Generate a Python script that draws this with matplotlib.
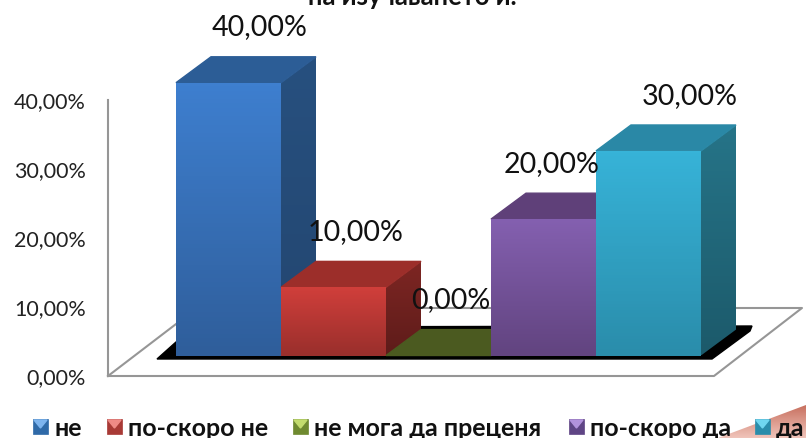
# -*- coding: utf-8 -*-
import matplotlib
matplotlib.use('Agg')
import matplotlib.pyplot as plt
import numpy as np
from matplotlib.colors import LinearSegmentedColormap
from matplotlib.patches import Polygon, Rectangle

categories = ['не', 'по-скоро не', 'не мога да преценя', 'по-скоро да', 'да']
values = [40, 10, 0, 20, 30]
ticks = [0, 10, 20, 30, 40]
title = 'на изучаването и.'

# front colour top, front colour bottom, roof, side top, side bottom
shades = [('#3e7fcf', '#2f5e9b', '#2c5d96', '#27507f', '#234670'),
          ('#d13f3b', '#9a2f2c', '#9c2e2a', '#7e2623', '#5e1c1a'),
          ('#6f8a35', '#4b5a20', '#4b5a20', '#4b5a20', '#4b5a20'),
          ('#8460b0', '#624480', '#5f4079', '#523668', '#452c58'),
          ('#37b3d8', '#2a8dab', '#2a88a6', '#267488', '#1c5a6b')]
label_shift = [0.30, 0.21, 0.12, 0.08, 0.39]
legend_x = [33, 107, 293, 569, 755]
legend_base = ['#2f6aa8', '#a83a36', '#6f8a30', '#5f4585', '#2a8dab']
legend_light = ['#7db4ee', '#ee8a86', '#c3dc6e', '#b292dc', '#6fd6f0']

W, H = 806, 438
DEPTH_X = 1 / 3
DEPTH_Y = 3.8
BASE_PX = 355.5
X0_PX = 176
BAR_PX = 105
UNIT_PX = 6.82
GREY = '#969696'

plt.rcParams['font.family'] = ['Lato', 'Open Sans', 'DejaVu Sans']


def gradient(ax, verts, top, bottom, zorder):
    verts = np.array(verts)
    cmap = LinearSegmentedColormap.from_list('g', [top, bottom])
    im = ax.imshow(np.linspace(0, 1, 64).reshape(-1, 1), cmap=cmap, aspect='auto',
                   origin='upper', zorder=zorder,
                   extent=(verts[:, 0].min(), verts[:, 0].max(),
                           verts[:, 1].min(), verts[:, 1].max()))
    clip = Polygon(verts, closed=True, transform=ax.transData)
    im.set_clip_path(clip)


fig = plt.figure(figsize=(W / 100, H / 100), dpi=100, facecolor='white')

# floor, legend and everything else that is not on the value scale, in pixels
bg = fig.add_axes([0, 0, 1, 1])
bg.set_axis_off()

gradient(bg, [(718, 438), (806, 405), (806, 438)], '#f0c4ba', '#c8705f', 1)
bg.plot([108, 714, 802, 197], [376, 376, 308, 308], color=GREY, lw=1.5, zorder=2)
bg.plot([108, 197], [376, 308], color=GREY, lw=1.5, zorder=2)
bg.add_patch(Polygon([(157, 359), (176, 342), (200, 327), (752, 326), (750, 331),
                      (712, 359)], closed=True, color='black', zorder=3))

for x, name, base, light in zip(legend_x, categories, legend_base, legend_light):
    bg.add_patch(Rectangle((x, 419), 15, 15, facecolor=base, edgecolor=base,
                           lw=0.5, zorder=4))
    bg.add_patch(Polygon([(x + 1, 420), (x + 14, 420), (x + 7.5, 428)], closed=True,
                         color=light, zorder=5))
    bg.text(x + 21, 428, name, fontsize=18, fontweight='bold', va='center', ha='left',
            color='#111111', zorder=6)

bg.text(412, 5, title, fontsize=18.4, fontweight='bold', ha='center', va='baseline',
        color='#111111')
bg.set_xlim(0, W)
bg.set_ylim(H, 0)

# wall with the value ticks
wall = fig.add_axes([108 / W, (H - 376) / H, 2 / W, 276 / H])
wall.patch.set_alpha(0)
wall.set_ylim(0, 40)
wall.set_xticks([])
wall.set_yticks(ticks)
wall.set_yticklabels(['%d,00%%' % t for t in ticks], fontsize=15.5, color='#222222')
wall.tick_params(axis='y', length=0, pad=16)
for side in ['top', 'right', 'bottom']:
    wall.spines[side].set_visible(False)
wall.spines['left'].set_color(GREY)
wall.spines['left'].set_linewidth(1.5)

# bars, on the value scale
ax = fig.add_axes([0, 0, 1, 1])
ax.patch.set_alpha(0)
ax.set_axis_off()
pos = np.arange(len(values))
xlim = (-0.5 - X0_PX / BAR_PX, -0.5 + (W - X0_PX) / BAR_PX)
ylim = ((BASE_PX - H) / UNIT_PX, BASE_PX / UNIT_PX)

bars = ax.bar(pos, values, width=1.0, color=[s[1] for s in shades], zorder=2)
for i, (bar, v, s) in enumerate(zip(bars, values, shades)):
    z = 2 + i * 3
    left, right = bar.get_x(), bar.get_x() + bar.get_width()
    bar.set_zorder(z)
    if v > 0:
        gradient(ax, [(left, 0), (right, 0), (right, v), (left, v)], s[0], s[1], z + 0.5)
        gradient(ax, [(right, 0), (right + DEPTH_X, DEPTH_Y), (right + DEPTH_X, v + DEPTH_Y),
                      (right, v)], s[3], s[4], z - 0.5)
    ax.add_patch(Polygon([(left, v), (right, v), (right + DEPTH_X, v + DEPTH_Y),
                          (left + DEPTH_X, v + DEPTH_Y)], closed=True, color=s[2], zorder=z))
    ax.text(i + label_shift[i], v + 8.1, '%d,00%%' % v, fontsize=20.6, ha='center',
            va='center', color='#111111', zorder=40)

ax.set_xlim(*xlim)
ax.set_ylim(*ylim)

fig.savefig('out.png', dpi=100)
